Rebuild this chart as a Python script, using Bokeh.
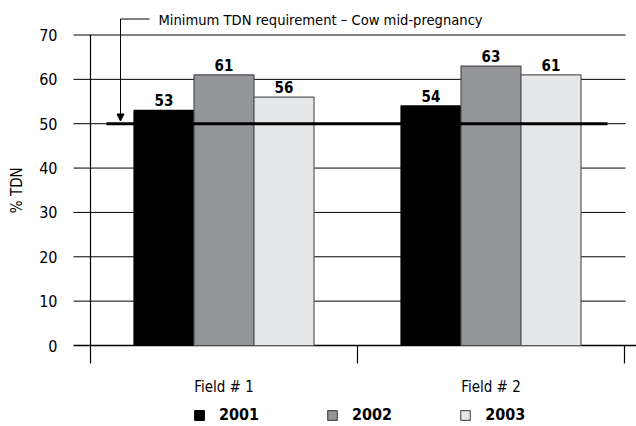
from bokeh.plotting import figure
from bokeh.models import (ColumnDataSource, Range1d, Legend, LegendItem, Arrow,
                          NormalHead)
from bokeh.transform import dodge
from bokeh.core.properties import value
from bokeh.embed import file_html
from bokeh.resources import INLINE
import math

# ---- data ----
fields = ["Field # 1", "Field # 2"]
years = ["2001", "2002", "2003"]
tdn_2001 = [53, 54]
tdn_2002 = [61, 63]
tdn_2003 = [56, 61]
y_ticks = [0, 10, 20, 30, 40, 50, 60, 70]
requirement = 50
requirement_label = "Minimum TDN requirement \u2013 Cow mid-pregnancy"
y_label = "% TDN"

FONT = "'Liberation Sans Narrow', 'DejaVu Sans Condensed', 'Arial Narrow', sans-serif"
W, H = 636, 426
PX_X = 267.0            # pixels per category
X0 = 90.0               # pixel of x=0
Y0 = 345.0              # pixel of y=0
PX_Y = (345.0 - 34.5) / 70.0

def xd(px):
    return (px - X0) / PX_X

def yd(py):
    return (Y0 - py) / PX_Y

p = figure(width=W, height=H, output_backend="svg", toolbar_location=None,
           x_range=Range1d(xd(0), xd(W)), y_range=Range1d(yd(H), yd(0)),
           min_border=0, min_border_left=0, min_border_right=0,
           min_border_top=0, min_border_bottom=0)
p.axis.visible = False
p.grid.visible = False
p.outline_line_color = None
p.background_fill_color = "white"
p.border_fill_color = "white"

xc = [i + 0.5 for i in range(len(fields))]
src = ColumnDataSource(dict(x=xc, f=fields, y1=tdn_2001, y2=tdn_2002, y3=tdn_2003,
                            l1=[str(v) for v in tdn_2001],
                            l2=[str(v) for v in tdn_2002],
                            l3=[str(v) for v in tdn_2003]))

# grid lines
grid_vals = [v for v in y_ticks if v != 0]
p.segment(x0=[xd(73)] * len(grid_vals), x1=[xd(625)] * len(grid_vals),
          y0=grid_vals, y1=grid_vals, line_color="black", line_width=1)
p.segment(x0=[xd(73)], x1=[xd(636)], y0=[0], y1=[0], line_color="black", line_width=1.5)

# bars
bw = 60.0 / PX_X
fills = ["#000000", "#939598", "#e6e7e8"]
lines = ["#000000", "#4d4d4f", "#58595b"]
offsets = [-bw, 0, bw]
cols = ["y1", "y2", "y3"]
labs = ["l1", "l2", "l3"]
bar_r = []
for off, c, fc, lc in zip(offsets, cols, fills, lines):
    r = p.vbar(x=dodge("x", off), top=c, bottom=0, width=bw, source=src,
               fill_color=fc, line_color=lc, line_width=1.2)
    bar_r.append(r)

# requirement line
p.segment(x0=[xd(106)], x1=[xd(607)], y0=[requirement], y1=[requirement],
          line_color="black", line_width=3)

# y axis line and category ticks
p.segment(x0=[0], x1=[0], y0=[y_ticks[-1]], y1=[yd(363)], line_color="black", line_width=1.2)
p.segment(x0=[1, 2], x1=[1, 2], y0=[0, 0], y1=[yd(363)] * 2, line_color="black", line_width=1.2)

# value labels
for off, l, c in zip(offsets, labs, cols):
    p.text(x=dodge("x", off), y=c, text=l, source=src, text_align="center",
           text_baseline="bottom", y_offset=-4, text_font=value(FONT),
           text_font_size="15px", text_font_style="bold", text_color="black")

# y tick labels
p.text(x=[xd(57)] * len(y_ticks), y=y_ticks, text=[str(v) for v in y_ticks],
       text_align="right", text_baseline="middle", text_font=value(FONT),
       text_font_size="16px", text_color="black")

# y axis title
p.text(x=[xd(16)], y=[35], text=[y_label], angle=math.pi / 2, text_align="center",
       text_baseline="middle", text_font=value(FONT), text_font_size="15px",
       text_color="black")

# category labels
p.text(x=xc, y=[yd(386)] * len(xc), text=fields, text_align="center",
       text_baseline="middle", text_font=value(FONT), text_font_size="15px",
       text_color="black")

# requirement annotation
ya = yd(18.5)
p.segment(x0=[xd(120)], x1=[xd(149)], y0=[ya], y1=[ya], line_color="black", line_width=1)
p.add_layout(Arrow(end=NormalHead(size=7, fill_color="black", line_color="black"),
                   x_start=xd(120), y_start=ya, x_end=xd(120), y_end=requirement + 2.7 / PX_Y,
                   line_color="black", line_width=1))
p.text(x=[xd(158)], y=[ya], text=[requirement_label], text_align="left",
       text_baseline="middle", text_font=value(FONT), text_font_size="14.6px",
       text_color="black")

# legend
legend = Legend(items=[LegendItem(label=yr, renderers=[r]) for yr, r in zip(years, bar_r)],
                orientation="horizontal", location=(191, 0),
                glyph_width=12, glyph_height=12, label_standoff=14, spacing=67,
                label_text_font=FONT, label_text_font_size="16px",
                label_text_font_style="bold", label_text_color="black",
                border_line_alpha=0, background_fill_alpha=0, padding=2, margin=0)
p.add_layout(legend, "center")

open("out.html", "w").write(file_html(p, INLINE))
